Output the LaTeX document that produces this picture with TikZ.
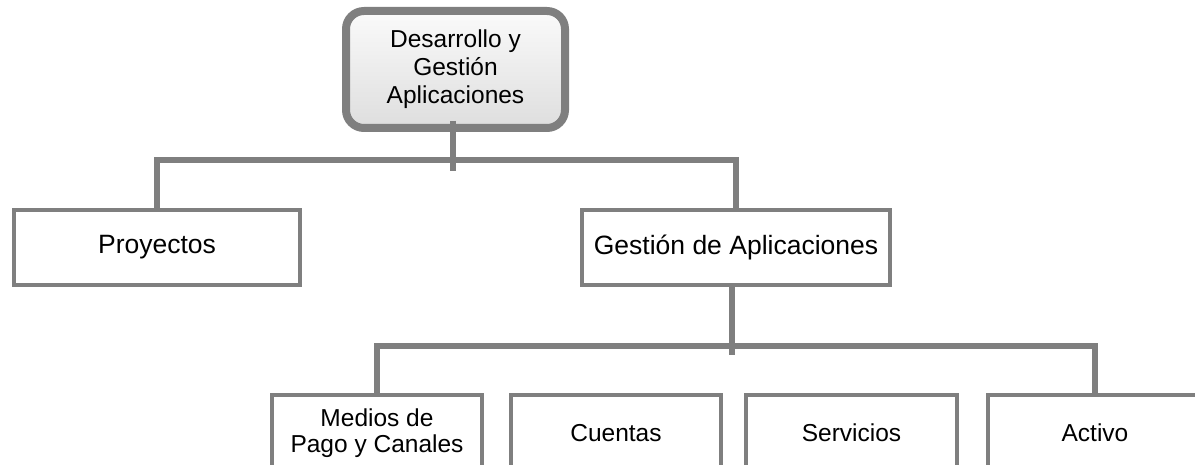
\documentclass[tikz,border=0pt]{standalone}
\usepackage{fontspec}
\setmainfont{Liberation Sans}
\definecolor{linegray}{HTML}{7F7F7F}
\begin{document}
\begin{tikzpicture}[x=1pt,y=-1pt,
  conn/.style={draw=linegray,line width=6.5pt},
  topbox/.style={draw=linegray,line width=8pt,rounded corners=18pt,
    top color=gray!4,bottom color=gray!26,minimum width=219pt,minimum height=117pt,
    inner sep=0pt,align=center,font=\fontsize{24.5}{28}\selectfont},
  lvlbox/.style={draw=linegray,line width=4pt,fill=white,minimum width=286pt,minimum height=75pt,
    inner sep=0pt,align=center,font=\fontsize{26.5}{30}\selectfont},
  leafbox/.style={draw=linegray,line width=4pt,fill=white,minimum width=210pt,minimum height=76pt,
    inner sep=0pt,align=center,font=\fontsize{24.5}{26.5}\selectfont}]
\useasboundingbox (0,0) rectangle (1195,465);
\clip (0,0) rectangle (1195,465);

\node[topbox] (top) at (455.5,69.5) {Desarrollo y\\Gestión\\Aplicaciones};
\node[lvlbox] (proy) at (157,247.5) {Proyectos};
\node[lvlbox,minimum width=308pt] (gest) at (736,247.5) {Gestión de Aplicaciones};

\node[leafbox] (med) at (377,433) {Medios de\\Pago y Canales};
\node[leafbox] (cue) at (616,433) {Cuentas};
\node[leafbox,minimum width=211pt] (ser) at (851.5,433) {Servicios};
\node[leafbox,minimum width=214pt] (act) at (1095,433) {Activo};

\coordinate (j1) at (453,160);
\coordinate (j2) at (732,346);

\draw[conn] ([xshift=-2.5pt,yshift=11pt]top.south) -- ++(0,50);
\draw[conn] (proy.north) |- (j1) -| (gest.north);
\draw[conn] ([xshift=-4pt]gest.south) -- ++(0,68);
\draw[conn] (med.north) |- (j2) -| (act.north);
\end{tikzpicture}
\end{document}
